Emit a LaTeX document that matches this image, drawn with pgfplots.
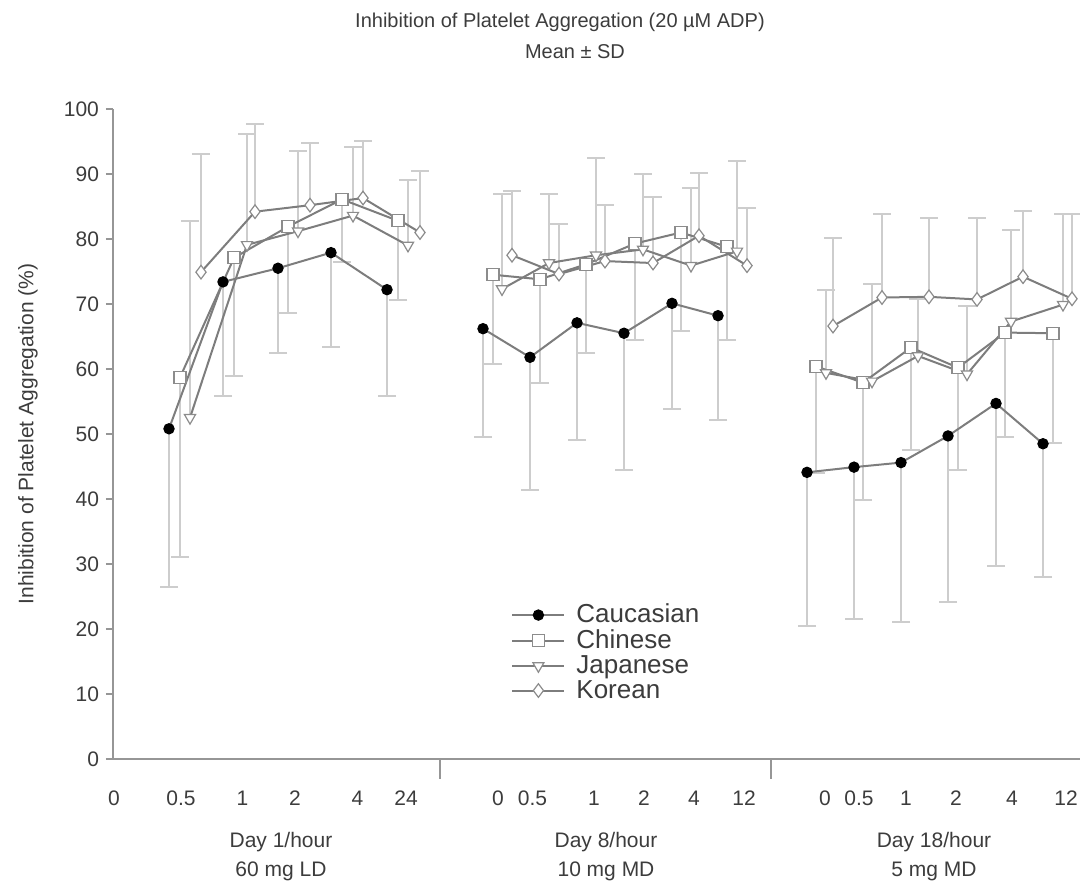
\documentclass[border=0pt]{standalone}
\usepackage{fontspec}
\setmainfont{Liberation Sans}
\usepackage{pgfplots}
\usepackage{pgfplotstable}
\pgfplotsset{compat=1.18}
\definecolor{txt}{RGB}{60,60,60}
\definecolor{axgray}{RGB}{150,150,150}
\definecolor{bargray}{RGB}{205,205,205}
\definecolor{linegray}{RGB}{125,125,125}
\definecolor{mkgray}{RGB}{140,140,140}

% x = horizontal position (pixel scale of the original), y = mean, e = SD
\pgfplotstableread{
x y e
169 50.8 24.3
223 73.4 17.6
278 75.5 13.1
331 77.9 14.5
387 72.2 16.4
nan nan nan
483 66.2 16.6
530 61.8 20.4
577 67.1 18.1
624 65.5 21.0
672 70.1 16.3
718 68.2 16.0
nan nan nan
807 44.1 23.7
854 44.9 23.4
901 45.6 24.6
948 49.7 25.6
996 54.7 25.0
1043 48.5 20.5
}\cauc
\pgfplotstableread{
x y e
180 58.7 27.7
234 77.1 18.2
288 81.9 13.3
342 86.1 9.7
398 82.8 12.2
nan nan nan
493 74.5 13.7
540 73.8 16.0
586 76.1 13.7
635 79.3 14.9
681 81.0 15.1
727 78.8 14.4
nan nan nan
816 60.4 16.4
863 57.9 18.0
911 63.3 15.7
958 60.2 15.7
1005 65.6 16.1
1053 65.5 16.9
}\chin
\pgfplotstableread{
x y e
190 52.5 30.3
247 79.1 17.0
298 81.2 12.4
353 83.6 10.6
408 79.0 10.1
nan nan nan
502 72.3 14.6
549 76.3 10.6
596 77.5 15.0
643 78.4 11.6
691 75.9 12.0
737 78.1 13.9
nan nan nan
826 59.4 12.7
872 58.1 15.0
918 62.0 8.7
967 59.2 10.5
1011 67.3 14.1
1063 69.9 14.0
}\japa
\pgfplotstableread{
x y e
201 74.9 18.2
255 84.2 13.5
310 85.2 9.6
363 86.3 8.7
420 81.0 9.5
nan nan nan
512 77.5 9.9
559 74.6 7.7
605 76.6 8.7
653 76.3 10.1
699 80.5 9.7
747 75.9 8.9
nan nan nan
833 66.6 13.6
882 71.0 12.9
929 71.1 12.2
977 70.7 12.6
1023 74.2 10.1
1072 70.8 13.1
}\kore

\begin{document}
\begin{tikzpicture}
\begin{axis}[name=ax, scale only axis, width=483.5pt, height=325pt,
  xmin=113, xmax=1080, ymin=0, ymax=100,
  axis x line*=bottom, axis y line*=left,
  axis line style={draw=axgray, line width=1pt},
  ytick={0,10,...,100},
  xtick={114,181,242.5,295,357.5,406,498,532.5,594,644,694,744,825,859,906,956,1012,1066},
  xticklabels={0,0.5,1,2,4,24,0,0.5,1,2,4,12,0,0.5,1,2,4,12},
  xtick style={draw=none},
  ytick style={draw=axgray, line width=1pt},
  tick align=outside, major tick length=3.5pt,
  ticklabel style={font=\fontsize{10.5}{12}\selectfont, text=txt},
  xticklabel style={yshift=-9pt},
  /pgf/number format/assume math mode=true,
  unbounded coords=jump,
  clip=false,
  legend style={at={(axis cs:505,24.5)}, anchor=north west, draw=none, fill=none,
    font=\fontsize{13}{13}\selectfont, text=txt, row sep=1.9pt, column sep=4.5pt,
    nodes={inner xsep=1pt, inner ysep=0pt}},
  legend cell align=left,
  legend image code/.code={\draw[#1, mark repeat=2, mark phase=2] plot coordinates {(0pt,0pt)(13pt,0pt)(26pt,0pt)};},
]
% error bars (drawn first, behind lines and markers)
\addplot[draw=none, forget plot, error bars/.cd, y dir=minus, y explicit,
  error bar style={draw=bargray, line width=1pt},
  error mark options={rotate=90, draw=bargray, line width=1pt, mark size=4.5pt}]
  table[x=x, y=y, y error=e] {\cauc};
\addplot[draw=none, forget plot, error bars/.cd, y dir=minus, y explicit,
  error bar style={draw=bargray, line width=1pt},
  error mark options={rotate=90, draw=bargray, line width=1pt, mark size=4.5pt}]
  table[x=x, y=y, y error=e] {\chin};
\addplot[draw=none, forget plot, error bars/.cd, y dir=plus, y explicit,
  error bar style={draw=bargray, line width=1pt},
  error mark options={rotate=90, draw=bargray, line width=1pt, mark size=4.5pt}]
  table[x=x, y=y, y error=e] {\japa};
\addplot[draw=none, forget plot, error bars/.cd, y dir=plus, y explicit,
  error bar style={draw=bargray, line width=1pt},
  error mark options={rotate=90, draw=bargray, line width=1pt, mark size=4.5pt}]
  table[x=x, y=y, y error=e] {\kore};
% lines and markers
\addplot[linegray, line width=1pt, mark=*, mark size=2.6pt,
  mark options={fill=black, draw=black, line width=0.5pt}] table[x=x, y=y] {\cauc};
\addlegendentry{Caucasian}
\addplot[linegray, line width=1pt, mark=square*, mark size=3pt,
  mark options={fill=white, draw=mkgray, line width=0.6pt}] table[x=x, y=y] {\chin};
\addlegendentry{Chinese}
\addplot[linegray, line width=1pt, mark=triangle*, mark size=3.2pt,
  mark options={fill=white, draw=mkgray, line width=0.6pt, rotate=180}] table[x=x, y=y] {\japa};
\addlegendentry{Japanese}
\addplot[linegray, line width=1pt, mark=diamond*, mark size=3.4pt,
  mark options={fill=white, draw=mkgray, line width=0.6pt}] table[x=x, y=y] {\kore};
\addlegendentry{Korean}
% group separators and group labels
\draw[axgray, line width=1pt] (axis cs:440,0) -- ([yshift=-10pt]axis cs:440,0);
\draw[axgray, line width=1pt] (axis cs:771,0) -- ([yshift=-10pt]axis cs:771,0);
\node[align=center, text=txt, font=\fontsize{10.5}{14.5}\selectfont, yshift=-49pt] at (axis cs:281,0) {Day 1/hour\\60 mg LD};
\node[align=center, text=txt, font=\fontsize{10.5}{14.5}\selectfont, yshift=-49pt] at (axis cs:606,0) {Day 8/hour\\10 mg MD};
\node[align=center, text=txt, font=\fontsize{10.5}{14.5}\selectfont, yshift=-49pt] at (axis cs:934,0) {Day 18/hour\\5 mg MD};
\end{axis}
\node[text=txt, font=\fontsize{10}{12}\selectfont] at ([xshift=223.5pt, yshift=43.5pt]ax.north west) {Inhibition of Platelet Aggregation (20 µM ADP)};
\node[text=txt, font=\fontsize{10}{12}\selectfont] at ([xshift=231pt, yshift=28.5pt]ax.north west) {Mean ± SD};
\node[rotate=90, text=txt, font=\fontsize{10.5}{12}\selectfont] at ([xshift=-42.5pt]ax.west) {Inhibition of Platelet Aggregation (\%)};
\pgfresetboundingbox
\path[use as bounding box] ([xshift=-56.5pt, yshift=-66.5pt]ax.south west) rectangle ++(540pt,446pt);
\end{tikzpicture}
\end{document}
